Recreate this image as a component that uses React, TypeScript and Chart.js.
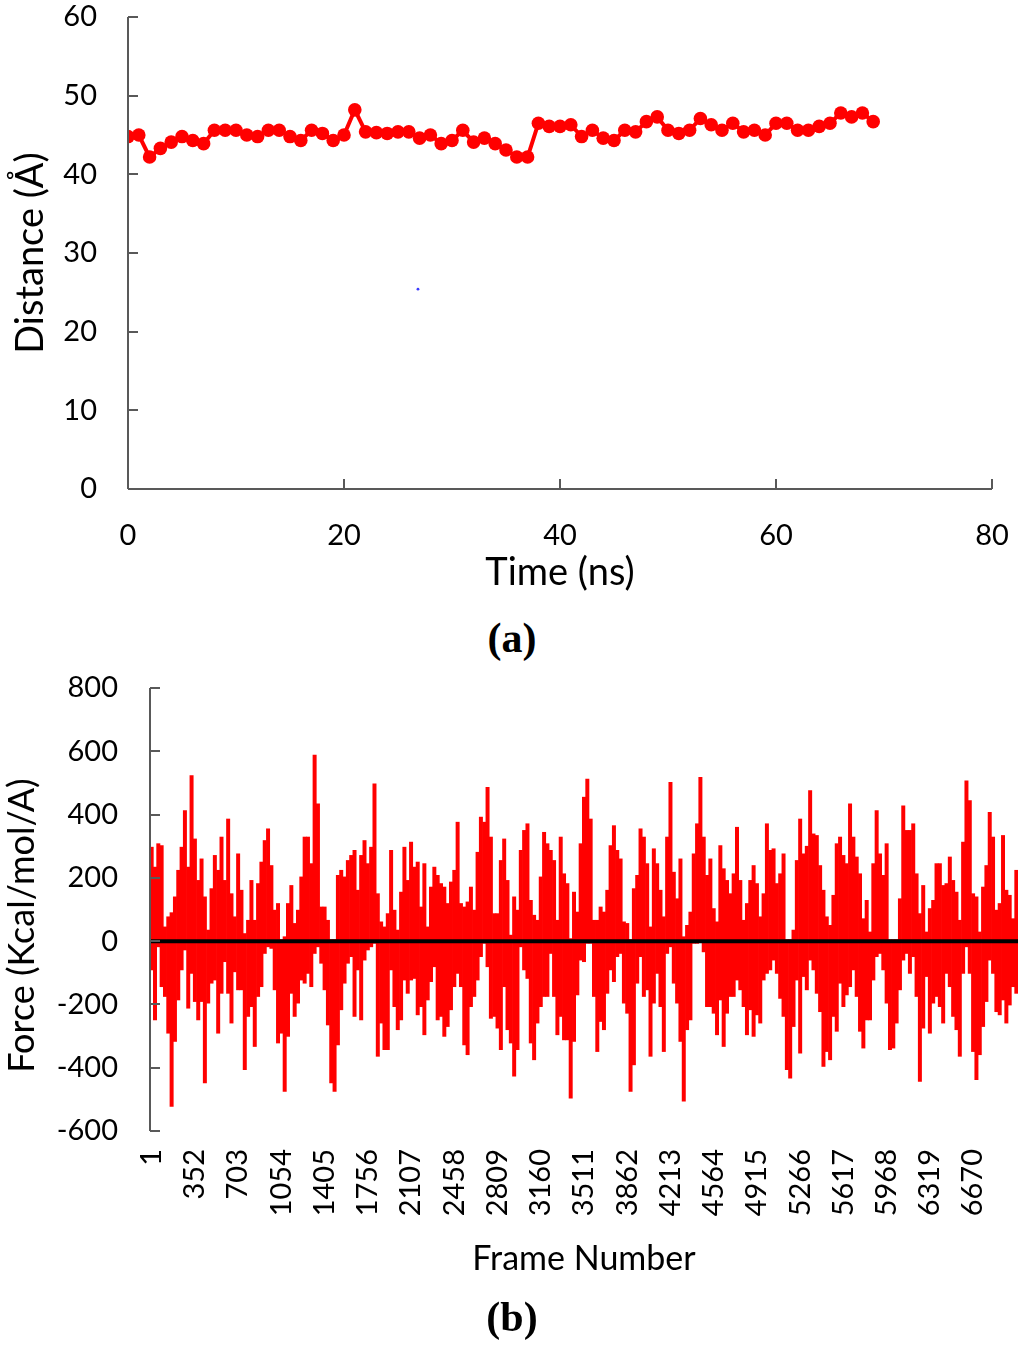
import React, { useEffect, useRef } from "react";
import { Chart, registerables } from "chart.js";

Chart.register(...registerables);

const FONT = "Lato, 'Open Sans', 'DejaVu Sans', sans-serif";
const AXIS_COLOR = "#595959";
const TEXT_COLOR = "#000000";
const RED = "#FF0000";

// ---------- Panel (a): distance vs time ----------
const timeNs = [
  0, 1, 2, 3, 4, 5, 6, 7, 8, 9, 10, 11, 12, 13, 14, 15, 16, 17, 18, 19,
  20, 21, 22, 23, 24, 25, 26, 27, 28, 29, 30, 31, 32, 33, 34, 35, 36, 37, 38, 39,
  40, 41, 42, 43, 44, 45, 46, 47, 48, 49, 50, 51, 52, 53, 54, 55, 56, 57, 58, 59,
  60, 61, 62, 63, 64, 65, 66, 67, 68, 69,
];
const distanceA = [
  44.8, 45.0, 42.2, 43.3, 44.1, 44.8, 44.3, 43.9, 45.6, 45.6,
  45.6, 45.0, 44.8, 45.6, 45.6, 44.8, 44.3, 45.6, 45.2, 44.3,
  45.0, 48.2, 45.4, 45.3, 45.2, 45.4, 45.4, 44.6, 45.0, 43.9,
  44.3, 45.6, 44.1, 44.6, 43.9, 43.1, 42.2, 42.2, 46.5, 46.1,
  46.1, 46.3, 44.8, 45.6, 44.6, 44.3, 45.6, 45.4, 46.7, 47.3,
  45.6, 45.2, 45.6, 47.1, 46.3, 45.6, 46.5, 45.4, 45.6, 45.0,
  46.5, 46.5, 45.6, 45.6, 46.1, 46.5, 47.8, 47.3, 47.8, 46.7,
];
const strayTimeNs = [26.85];
const strayDistance = [25.4];

// ---------- Panel (b): force vs frame number (binned envelope, 27 frames per bin) ----------
const FRAMES_PER_BIN = 27;
const frameTickLabels = [
  "1", "352", "703", "1054", "1405", "1756", "2107", "2458", "2809", "3160",
  "3511", "3862", "4213", "4564", "4915", "5266", "5617", "5968", "6319", "6670",
];
const forceHigh = [
  297, 234, 308, 302, 45, 77, 90, 140, 224, 297, 413, 234, 523, 323, 192, 260, 140, 35, 166, 271,
  224, 329, 192, 386, 150, 77, 276, 161, 24, 66, 192, 66, 182, 250, 318, 355, 239, 98, 119, 5,
  14, 119, 176, 56, 98, 203, 329, 329, 245, 588, 434, 108, 108, 66, 5, 5, 208, 224, 203, 255,
  271, 287, 161, 271, 318, 245,
  297, 497, 150, 61, 45, 87, 287, 98, 35, 155, 297, 192, 313, 234, 250, 108, 245, 45, 171, 234,
  208, 182, 171, 119, 187, 224, 376, 119, 108, 124, 171, 98, 281, 392, 376, 486, 329, 87, 87, 255,
  323, 192, 19, 140, 98, 287, 350, 371, 129, 82, 66, 203, 344, 308, 287, 255, 66, 329, 213, 182,
  8, 155, 92, 308, 455, 512,
  386, 66, 66, 108, 92, 161, 302, 365, 287, 260, 61, 56, 5, 166, 208, 355, 329, 245, 45, 292,
  245, 161, 77, 329, 502, 218, 134, 260, 14, 50, 92, 276, 371, 518, 329, 208, 260, 103, 61, 302,
  229, 192, 150, 213, 360, 192, 66, 119, 192, 239, 182, 77, 150, 371, 287, 292, 182, 213, 276, 5,
  5, 35, 255, 386, 276, 300,
  476, 339, 334, 239, 161, 77, 50, 145, 308, 329, 271, 245, 434, 329, 266, 213, 71, 129, 29, 245,
  413, 276, 208, 308, 5, 5, 5, 134, 428, 350, 350, 371, 213, 87, 176, 29, 103, 129, 245, 245,
  176, 182, 266, 192, 155, 66, 313, 507, 444, 150, 140, 29, 171, 239, 407, 329, 98, 119, 334, 161,
  145, 71, 224,
];
const forceLow = [
  -91, -249, -18, -144, -175, -291, -522, -317, -186, -91, -28, -212, -102, -191, -249, -191, -448, -196, -133, -123,
  -291, -165, -65, -165, -259, -97, -154, -154, -406, -238, -207, -333, -175, -144, -39, -18, -23, -154, -322, -291,
  -475, -301, -165, -238, -196, -123, -133, -102, -144, -39, -18, -70, -154, -265, -448, -475, -328, -217, -133, -70,
  -49, -238, -91, -249, -60, -28,
  -18, -7, -364, -259, -343, -343, -91, -207, -280, -249, -123, -165, -123, -118, -233, -207, -296, -186, -128, -81,
  -249, -238, -301, -270, -217, -144, -102, -144, -328, -359, -207, -175, -123, -49, -7, -81, -244, -238, -275, -343,
  -144, -280, -322, -427, -343, -18, -91, -118, -322, -375, -259, -207, -175, -175, -39, -175, -296, -238, -312, -312,
  -496, -317, -170, -60, -65, -7,
  -7, -175, -349, -254, -280, -165, -91, -128, -49, -39, -196, -228, -475, -391, -133, -49, -175, -154, -364, -196,
  -102, -207, -349, -39, -18, -133, -196, -317, -506, -280, -249, -7, -7, -2, -34, -207, -207, -228, -296, -186,
  -333, -228, -175, -175, -123, -154, -207, -296, -217, -301, -233, -259, -123, -102, -91, -60, -102, -181, -238, -406,
  -433, -270, -123, -354, -112, -154,
  -60, -91, -165, -223, -396, -349, -375, -238, -285, -133, -207, -170, -144, -91, -175, -285, -338, -249, -249, -123,
  -49, -39, -91, -196, -343, -338, -259, -154, -60, -39, -102, -49, -175, -443, -275, -112, -291, -196, -175, -207,
  -259, -102, -144, -238, -280, -364, -102, -18, -102, -349, -438, -359, -270, -191, -60, -102, -223, -233, -186, -259,
  -202, -144, -165,
];
const frameBins = forceHigh.map((_, i) => String(1 + FRAMES_PER_BIN * i));

// Inner tick marks + axis lines
const makeAxesPlugin = (id: string, opts: { xLine: boolean; xTicks: boolean; zeroLine: boolean; tickLen: number }) => ({
  id,
  afterDatasetsDraw(chart: any) {
    const { ctx, chartArea: ca, scales } = chart;
    const xs = scales.x;
    const ys = scales.y;
    ctx.save();
    if (opts.zeroLine) {
      const y0 = ys.getPixelForValue(0);
      ctx.strokeStyle = "#000000";
      ctx.lineWidth = 4;
      ctx.beginPath();
      ctx.moveTo(ca.left, y0);
      ctx.lineTo(ca.right, y0);
      ctx.stroke();
    }
    ctx.strokeStyle = AXIS_COLOR;
    ctx.lineWidth = 2;
    ctx.beginPath();
    ctx.moveTo(ca.left, ca.top);
    ctx.lineTo(ca.left, ca.bottom);
    if (opts.xLine) {
      ctx.moveTo(ca.left, ca.bottom);
      ctx.lineTo(ca.right, ca.bottom);
    }
    ys.ticks.forEach((t: any) => {
      const py = Math.round(ys.getPixelForValue(t.value));
      ctx.moveTo(ca.left, py);
      ctx.lineTo(ca.left + opts.tickLen, py);
    });
    if (opts.xTicks) {
      xs.ticks.forEach((t: any) => {
        const px = Math.round(xs.getPixelForValue(t.value));
        ctx.moveTo(px, ca.bottom);
        ctx.lineTo(px, ca.bottom - opts.tickLen);
      });
    }
    ctx.stroke();
    ctx.restore();
  },
});

const forceTitlePlugin = {
  id: "forceTitle",
  afterDraw(chart: any) {
    const { ctx, chartArea: ca } = chart;
    ctx.save();
    ctx.translate(22, (ca.top + ca.bottom) / 2 + 16);
    ctx.rotate(-Math.PI / 2);
    ctx.textAlign = "center";
    ctx.textBaseline = "middle";
    ctx.fillStyle = TEXT_COLOR;
    ctx.font = `36px ${FONT}`;
    ctx.fillText("Force (Kcal/mol/A)", 0, 0);
    ctx.restore();
  },
};

const fitX = (h: number) => (s: any) => {
  s.height = h;
  s.paddingLeft = 0;
  s.paddingRight = 0;
};
const fitY = (w: number) => (s: any) => {
  s.width = w;
  s.paddingTop = 0;
  s.paddingBottom = 0;
};

export default function App() {
  const refA = useRef<HTMLCanvasElement | null>(null);
  const refB = useRef<HTMLCanvasElement | null>(null);

  useEffect(() => {
    const tickFont = { family: FONT, size: 29 };
    const chartA = new Chart(refA.current as HTMLCanvasElement, {
      type: "scatter",
      data: {
        datasets: [
          {
            data: timeNs.map((t, i) => ({ x: t, y: distanceA[i] })),
            showLine: true,
            borderColor: RED,
            backgroundColor: RED,
            borderWidth: 4,
            pointRadius: 6.8,
            pointBorderWidth: 0,
            pointBackgroundColor: RED,
          },
          {
            data: strayTimeNs.map((t, i) => ({ x: t, y: strayDistance[i] })),
            showLine: false,
            pointRadius: 1.4,
            pointBorderWidth: 0,
            pointBackgroundColor: "#3a3aff",
          },
        ],
      },
      options: {
        responsive: false,
        animation: false,
        layout: { autoPadding: false, padding: { top: 17, right: 32, left: 0, bottom: 0 } },
        plugins: { legend: { display: false }, tooltip: { enabled: false } },
        scales: {
          x: {
            type: "linear",
            min: 0,
            max: 80,
            ticks: { stepSize: 20, padding: 29, color: TEXT_COLOR, font: tickFont },
            grid: { display: false, drawTicks: false },
            border: { display: false },
            title: {
              display: true,
              text: "Time (ns)",
              color: TEXT_COLOR,
              font: { family: FONT, size: 38 },
              padding: { top: 0, bottom: 4 },
            },
            afterFit: fitX(111),
          },
          y: {
            type: "linear",
            min: 0,
            max: 60,
            ticks: { stepSize: 10, padding: 31, color: TEXT_COLOR, font: tickFont },
            grid: { display: false, drawTicks: false },
            border: { display: false },
            title: {
              display: true,
              text: "Distance (Å)",
              color: TEXT_COLOR,
              font: { family: FONT, size: 38 },
              padding: { top: 8, bottom: 0 },
            },
            afterFit: fitY(128),
          },
        },
      } as any,
      plugins: [makeAxesPlugin("axesA", { xLine: true, xTicks: true, zeroLine: false, tickLen: 10 })],
    });

    const chartB = new Chart(refB.current as HTMLCanvasElement, {
      type: "bar",
      data: {
        labels: frameBins,
        datasets: [
          {
            data: forceHigh,
            backgroundColor: RED,
            borderWidth: 0,
            grouped: false,
            barPercentage: 1,
            categoryPercentage: 1,
          } as any,
          {
            data: forceLow,
            backgroundColor: RED,
            borderWidth: 0,
            grouped: false,
            barPercentage: 1,
            categoryPercentage: 1,
          } as any,
        ],
      },
      options: {
        responsive: false,
        animation: false,
        layout: { autoPadding: false, padding: { top: 18, right: 6, left: 0, bottom: 0 } },
        plugins: { legend: { display: false }, tooltip: { enabled: false } },
        scales: {
          x: {
            type: "category",
            ticks: {
              autoSkip: false,
              minRotation: 90,
              maxRotation: 90,
              padding: 18,
              color: TEXT_COLOR,
              font: tickFont,
              callback: (_v: any, index: number) =>
                frameTickLabels.includes(frameBins[index]) ? frameBins[index] : null,
            },
            grid: { display: false, drawTicks: false },
            border: { display: false },
            title: {
              display: true,
              text: "Frame Number",
              color: TEXT_COLOR,
              font: { family: FONT, size: 34 },
              padding: { top: 0, bottom: 21 },
            },
            afterFit: fitX(169),
          },
          y: {
            type: "linear",
            min: -600,
            max: 800,
            ticks: { stepSize: 200, padding: 32, color: TEXT_COLOR, font: tickFont },
            grid: { display: false, drawTicks: false },
            border: { display: false },
            afterFit: fitY(150),
          },
        },
      } as any,
      plugins: [
        makeAxesPlugin("axesB", { xLine: false, xTicks: false, zeroLine: true, tickLen: 10 }),
        forceTitlePlugin,
      ],
    });

    return () => {
      chartA.destroy();
      chartB.destroy();
    };
  }, []);

  const captionStyle: React.CSSProperties = {
    position: "absolute",
    left: 0,
    width: 1024,
    textAlign: "center",
    fontFamily: "'Liberation Serif', 'Times New Roman', serif",
    fontWeight: "bold",
    fontSize: 42,
    lineHeight: "42px",
    color: "#000",
  };

  return (
    <div style={{ position: "absolute", left: 0, top: 0, width: 1024, height: 1346, background: "#fff", overflow: "hidden" }}>
      <canvas ref={refA} width={1024} height={600} style={{ position: "absolute", left: 0, top: 0 }} />
      <div style={{ ...captionStyle, top: 617 }}>
        (<span>a</span>)
      </div>
      <canvas ref={refB} width={1024} height={630} style={{ position: "absolute", left: 0, top: 670 }} />
      <div style={{ ...captionStyle, top: 1296 }}>
        (<span>b</span>)
      </div>
    </div>
  );
}
